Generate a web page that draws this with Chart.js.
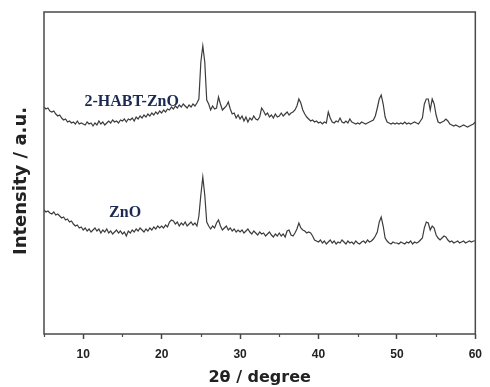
<!DOCTYPE html>
<html>
<head>
<meta charset="utf-8">
<script src="https://cdn.jsdelivr.net/npm/chart.js@4.4.1/dist/chart.umd.min.js"></script>
<style>
  html, body { margin: 0; padding: 0; background: #ffffff; }
  #wrap { width: 490px; height: 387px; }
</style>
</head>
<body>
<div id="wrap"><canvas id="c" width="490" height="387"></canvas></div>
<script>
// 2θ (degree) sampling positions
const twoTheta = [
  5,5.25,5.5,5.75,6,6.25,6.5,6.75,7,7.25,7.5,7.75,8,8.25,8.5,8.75,9,9.25,9.5,9.75,
  10,10.25,10.5,10.75,11,11.25,11.5,11.75,12,12.25,12.5,12.75,13,13.25,13.5,13.75,14,14.25,14.5,14.75,
  15,15.25,15.5,15.75,16,16.25,16.5,16.75,17,17.25,17.5,17.75,18,18.25,18.5,18.75,19,19.25,19.5,19.75,
  20,20.25,20.5,20.75,21,21.25,21.5,21.75,22,22.25,22.5,22.75,23,23.25,23.5,23.75,24,24.25,24.5,24.75,
  25,25.25,25.5,25.75,26,26.25,26.5,26.75,27,27.25,27.5,27.75,28,28.25,28.5,28.75,29,29.25,29.5,29.75,
  30,30.25,30.5,30.75,31,31.25,31.5,31.75,32,32.25,32.5,32.75,33,33.25,33.5,33.75,34,34.25,34.5,34.75,
  35,35.25,35.5,35.75,36,36.25,36.5,36.75,37,37.25,37.5,37.75,38,38.25,38.5,38.75,39,39.25,39.5,39.75,
  40,40.25,40.5,40.75,41,41.25,41.5,41.75,42,42.25,42.5,42.75,43,43.25,43.5,43.75,44,44.25,44.5,44.75,
  45,45.25,45.5,45.75,46,46.25,46.5,46.75,47,47.25,47.5,47.75,48,48.25,48.5,48.75,49,49.25,49.5,49.75,
  50,50.25,50.5,50.75,51,51.25,51.5,51.75,52,52.25,52.5,52.75,53,53.25,53.5,53.75,54,54.25,54.5,54.75,
  55,55.25,55.5,55.75,56,56.25,56.5,56.75,57,57.25,57.5,57.75,58,58.25,58.5,58.75,59,59.25,59.5,59.75,
  60
];

// Intensity (a.u.), 2-HABT-ZnO pattern (upper trace)
const habtZnO = [
  227,225,226,223,222,223,220,218,219,216,214,215,212,213,211,212,210,213,210,211,
  210,209,212,210,211,208,211,209,213,210,212,209,211,213,211,214,212,213,211,214,
  213,215,212,215,214,216,213,217,215,218,216,219,217,220,218,221,219,222,220,223,
  221,224,222,225,224,227,225,228,226,229,227,230,228,226,229,227,230,228,231,235,
  272,288,272,234,230,224,228,225,226,237,230,224,226,228,232,225,220,221,216,219,
  215,218,213,217,212,216,214,218,215,214,217,226,223,219,221,217,219,216,220,217,
  218,221,218,220,222,219,221,222,224,228,235,231,224,220,217,215,213,214,212,213,
  211,212,210,212,211,222,216,212,211,213,212,216,212,211,213,211,215,212,211,210,
  211,210,212,211,210,211,212,213,214,218,226,235,239,230,217,212,211,210,211,210,
  211,210,211,210,212,210,211,210,211,212,211,210,213,216,230,235,235,224,235,230,
  219,212,211,212,213,215,213,210,209,208,209,208,207,208,209,208,207,208,209,210,
  212
];

// Intensity (a.u.), ZnO pattern (lower trace)
const znO = [
  124,122,123,121,120,122,119,120,118,116,117,114,115,112,113,110,108,109,106,107,
  104,106,103,105,102,104,106,103,105,101,104,102,105,101,103,100,102,104,101,103,
  100,102,98,103,101,104,102,105,103,106,104,102,105,103,106,104,107,105,108,106,
  108,106,109,107,112,114,113,110,112,108,111,109,112,108,110,112,109,111,108,118,
  139,157,139,112,108,105,108,106,111,114,108,104,106,108,104,106,103,105,102,104,
  102,104,101,103,105,102,100,103,101,99,102,100,101,98,100,102,99,97,100,98,
  101,98,100,97,103,104,99,98,101,105,111,106,104,103,101,102,101,98,94,93,
  92,94,91,93,90,92,94,91,93,90,92,91,94,92,90,93,91,92,90,93,
  91,90,92,93,91,94,92,93,95,98,102,112,117,108,96,93,91,90,92,91,
  91,90,92,91,90,92,91,93,90,92,91,92,94,96,106,112,111,104,108,106,
  99,96,94,96,98,97,94,92,93,91,92,93,91,92,93,91,92,93,92,93,
  93
];

// Axis tick labels
const majorTicks = [10, 20, 30, 40, 50, 60];
const minorTicks = [5, 15, 25, 35, 45, 55];

// Series names written next to the traces
const seriesNames = ['2-HABT-ZnO', 'ZnO'];
const seriesNameAnchors = [ {x: 10.15, y: 228}, {x: 13.3, y: 117} ];

const toPoints = (vals) => twoTheta.map((t, i) => ({ x: t, y: vals[i] }));

const framePlugin = {
  id: 'frame',
  afterDraw(chart) {
    const { ctx, chartArea: a, scales } = chart;
    ctx.save();
    // frame
    ctx.strokeStyle = '#4a4a4a';
    ctx.lineWidth = 1.5;
    ctx.strokeRect(a.left, a.top, a.right - a.left, a.bottom - a.top);
    // minor ticks
    ctx.lineWidth = 1.2;
    ctx.beginPath();
    minorTicks.forEach(v => {
      const px = Math.round(scales.x.getPixelForValue(v)) + 0.5;
      ctx.moveTo(px, a.bottom);
      ctx.lineTo(px, a.bottom + 3);
    });
    ctx.stroke();
    // series names
    ctx.fillStyle = '#1b2a52';
    ctx.font = 'bold 16px "Liberation Serif", "Times New Roman", serif';
    ctx.textBaseline = 'alphabetic';
    ctx.textAlign = 'left';
    seriesNames.forEach((name, i) => {
      const p = seriesNameAnchors[i];
      ctx.fillText(name, scales.x.getPixelForValue(p.x), scales.y.getPixelForValue(p.y));
    });
    // y axis title
    ctx.fillStyle = '#222';
    ctx.font = 'bold 18px "DejaVu Sans", sans-serif';
    ctx.textAlign = 'center';
    ctx.textBaseline = 'middle';
    ctx.translate(21, 181);
    ctx.rotate(-Math.PI / 2);
    ctx.fillText('Intensity / a.u.', 0, 0);
    ctx.restore();
  }
};

new Chart(document.getElementById('c'), {
  type: 'line',
  data: {
    datasets: [
      { label: seriesNames[0], data: toPoints(habtZnO), borderColor: '#3c3c3c', borderWidth: 1.2, pointRadius: 0, fill: false, tension: 0 },
      { label: seriesNames[1], data: toPoints(znO), borderColor: '#3c3c3c', borderWidth: 1.2, pointRadius: 0, fill: false, tension: 0 }
    ]
  },
  options: {
    responsive: false,
    animation: false,
    devicePixelRatio: 1,
    layout: { padding: { top: 12, right: 8, left: 0, bottom: 0 } },
    plugins: { legend: { display: false }, tooltip: { enabled: false } },
    scales: {
      x: {
        type: 'linear',
        min: 5, max: 60,
        afterBuildTicks: (s) => { s.ticks = majorTicks.map(v => ({ value: v })); },
        afterFit: (s) => { s.height = 53; },
        border: { display: false },
        grid: { display: true, drawOnChartArea: false, drawTicks: true, tickLength: 5, tickColor: '#444', tickWidth: 1.5 },
        ticks: { color: '#222', font: { family: '"Liberation Sans", Arial, sans-serif', size: 12, weight: 'bold' }, padding: 8, maxRotation: 0 },
        title: { display: true, text: '2θ / degree', color: '#222', font: { family: '"DejaVu Sans", sans-serif', size: 16, weight: 'bold' }, padding: { top: 0, bottom: 0 } }
      },
      y: {
        type: 'linear',
        min: 0, max: 322,
        afterFit: (s) => { s.width = 44; },
        border: { display: false },
        grid: { display: false },
        ticks: { display: false },
        title: { display: false }
      }
    }
  },
  plugins: [framePlugin]
});
</script>
</body>
</html>
